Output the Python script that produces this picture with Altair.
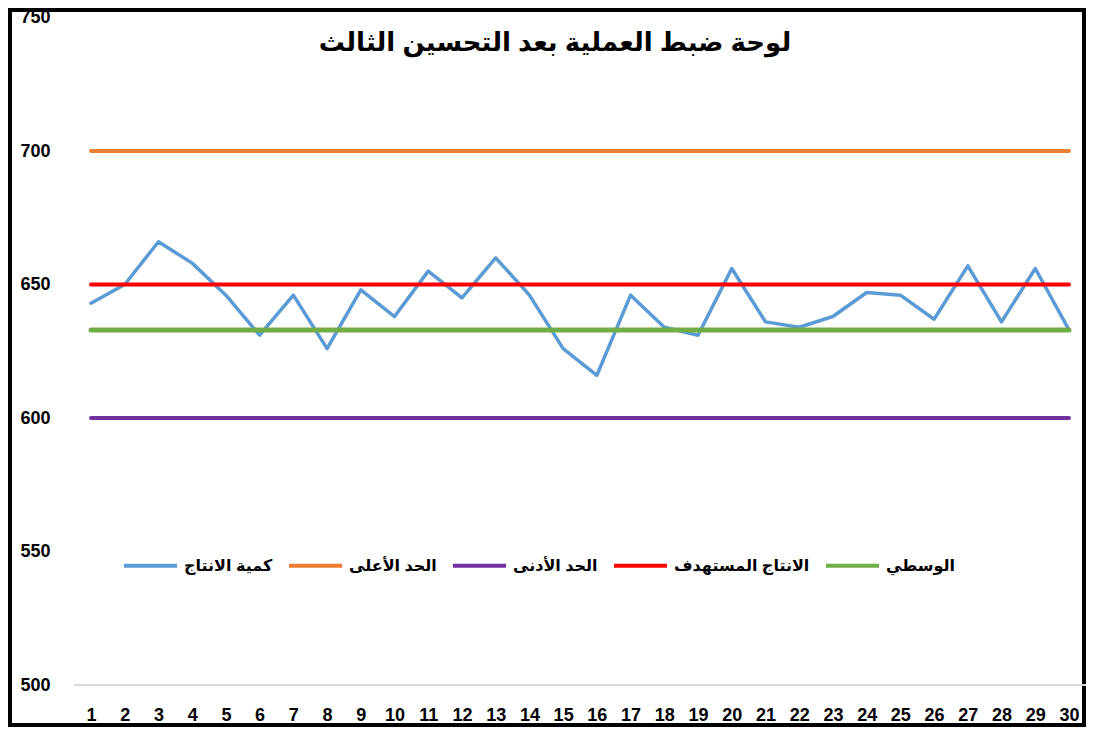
import altair as alt
import pandas as pd

# ---- data ----
days = list(range(1, 31))
qty = [643, 650, 666, 658, 646, 631, 646, 626, 648, 638,
       655, 645, 660, 646, 626, 616, 646, 634, 631, 656,
       636, 634, 638, 647, 646, 637, 657, 636, 656, 633]
series_names = ["كمية الانتاج", "الحد الأعلى", "الحد الأدنى", "الانتاج المستهدف", "الوسطي"]
upper_limit = 700
lower_limit = 600
target = 650
center = 633
colors = ["#5B9BD5", "#ED7D31", "#7030A0", "#FF0000", "#70AD47"]
y_ticks = [500, 550, 600, 650, 700, 750]
title_text = "لوحة ضبط العملية بعد التحسين الثالث"

FONT = "Liberation Sans, Arial, DejaVu Sans, sans-serif"

qty_df = pd.DataFrame({"day": days, "value": qty, "series": series_names[0]})
ref_df = pd.DataFrame({
    "series": series_names[1:],
    "value": [upper_limit, lower_limit, target, center],
    "day": [days[0]] * 4,
    "day_end": [days[-1]] * 4,
})

W, H = 1074, 715
x_scale = alt.Scale(domain=[days[0] - 0.5, days[-1] + 0.5], range=[64.14, 1075.86], nice=False, zero=False)
y_scale = alt.Scale(domain=[y_ticks[0], y_ticks[-1]], range=[675, 7.5], nice=False, zero=False)
color_scale = alt.Scale(domain=series_names, range=colors)

x_axis = alt.Axis(values=days, orient="bottom", offset=-19, domain=False, ticks=False, tickSize=0,
                  labelPadding=0, grid=False, labelFont=FONT, labelFontSize=18, labelFontWeight="bold",
                  labelColor="black", labelFlush=False, labelOverlap=False, labelAngle=0, title=None)
y_axis = alt.Axis(values=y_ticks, orient="left", offset=-40, domain=False, ticks=False, tickSize=0,
                  labelPadding=0, grid=False, labelFont=FONT, labelFontSize=18, labelFontWeight="bold",
                  labelColor="black", labelFlush=False, title=None)

legend = alt.Legend(orient="none", legendX=112, legendY=527, direction="horizontal",
                    symbolType="stroke", symbolSize=2809, symbolStrokeWidth=4,
                    labelFont=FONT, labelFontSize=16, labelFontWeight="bold", labelColor="black",
                    columnPadding=8, labelOffset=5, labelLimit=400, title=None)

X = alt.X("day:Q", scale=x_scale, axis=x_axis)
Y = alt.Y("value:Q", scale=y_scale, axis=y_axis)
C = alt.Color("series:N", scale=color_scale, legend=legend, sort=series_names)

baseline = alt.Chart(qty_df).mark_rule(color="#d9d9d9", strokeWidth=1).encode(
    x=alt.X(datum=days[0] - 0.5, scale=x_scale, axis=x_axis),
    x2=alt.X2(datum=days[-1] + 0.5),
    y=alt.Y(datum=y_ticks[0], scale=y_scale, axis=y_axis),
)

line = alt.Chart(qty_df).mark_line(strokeWidth=3.5, strokeCap="round", strokeJoin="round").encode(
    x=X, y=Y, color=C
)

rules = alt.Chart(ref_df[ref_df["series"] != series_names[4]]).mark_rule(strokeWidth=4, strokeCap="round").encode(
    x=X, x2="day_end:Q", y=Y, color=C
)
green = alt.Chart(ref_df[ref_df["series"] == series_names[4]]).mark_rule(strokeWidth=5, strokeCap="round").encode(
    x=X, x2="day_end:Q", y=Y, color=C
)

chart = alt.layer(baseline, line, rules, green).properties(
    width=W, height=H,
    autosize=alt.AutoSizeParams(type="none"),
    padding={"left": 2, "top": 2, "right": 2, "bottom": 2},
    background="white",
    title=alt.TitleParams(title_text, font=FONT, fontSize=26, fontWeight="bold", color="black",
                          anchor="middle", offset=0, dx=8, dy=47),
).configure_view(stroke="black", strokeWidth=4)

chart.save("out.html", embed_options={"renderer": "svg", "actions": False})
